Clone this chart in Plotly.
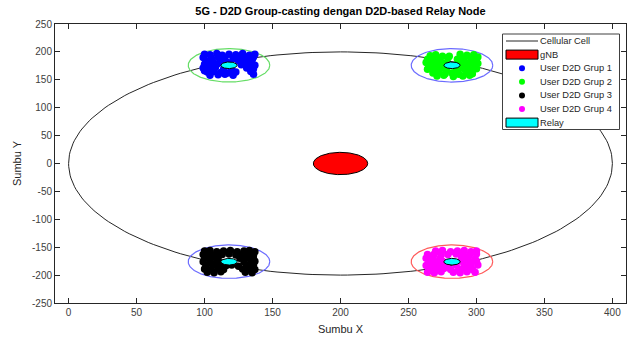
import numpy as np
import plotly.graph_objects as go

# ---- network layout ----
cell_center = (200, 0)
cell_radius = 200
gnb_radius = 20
relay_radius = 6
group_radius = 30

relay_x = [118, 282, 118, 282]
relay_y = [176, 176, -176, -176]

# ---- user positions per D2D group ----
grup1_x = [100, 104, 109, 113, 118, 123, 128, 133, 137, 99, 105, 110, 115, 121, 126, 131, 136,
           101, 106, 112, 125, 130, 135, 100, 104, 110, 127, 133, 137, 99, 103, 108, 114, 120,
           131, 136, 102, 107, 112, 117, 123, 134, 104, 110, 115, 121, 136, 100, 117]
grup1_y = [196, 195, 197, 194, 196, 195, 197, 194, 196, 190, 189, 191, 190, 188, 190, 189, 191,
           184, 183, 185, 184, 183, 185, 178, 177, 179, 177, 178, 176, 171, 170, 172, 169, 168,
           171, 170, 164, 165, 163, 162, 164, 165, 158, 159, 160, 158, 160, 166, 181]

grup2_x = [266, 270, 275, 288, 293, 298, 301, 264, 268, 273, 279, 286, 291, 296, 300, 263, 267,
           272, 277, 287, 292, 297, 301, 265, 270, 275, 289, 294, 299, 264, 268, 273, 278, 286,
           291, 296, 300, 268, 272, 277, 282, 287, 293, 297, 271, 276, 283, 290, 295, 280, 285]
grup2_y = [193, 195, 192, 196, 194, 195, 191, 187, 188, 186, 189, 187, 188, 186, 187, 181, 180,
           182, 179, 181, 180, 182, 179, 175, 174, 176, 174, 175, 173, 169, 168, 170, 167, 168,
           169, 167, 170, 162, 163, 161, 162, 160, 163, 161, 157, 158, 156, 157, 158, 192, 172]

grup3_x = [100, 104, 109, 114, 119, 124, 129, 133, 137, 99, 103, 108, 113, 118, 123, 128, 132,
           136, 100, 105, 110, 126, 131, 136, 99, 104, 109, 114, 129, 134, 137, 101, 106, 111,
           116, 120, 125, 131, 136, 100, 105, 110, 114, 128, 133, 137, 102, 107, 112, 130, 135]
grup3_y = [-157, -156, -158, -157, -156, -158, -157, -156, -158, -163, -162, -164, -163, -162,
           -164, -163, -162, -164, -170, -169, -171, -170, -169, -171, -176, -177, -175, -178,
           -176, -177, -175, -183, -182, -184, -183, -182, -184, -183, -182, -189, -190, -188,
           -190, -189, -188, -190, -195, -196, -194, -195, -196]

grup4_x = [270, 275, 281, 286, 291, 296, 300, 264, 269, 274, 279, 285, 290, 295, 300, 263, 268,
           273, 289, 294, 299, 265, 270, 275, 290, 295, 300, 263, 268, 273, 278, 285, 291, 296,
           301, 265, 270, 276, 281, 287, 292, 297, 264, 269, 274, 283, 288, 293, 299]
grup4_y = [-157, -156, -158, -157, -156, -158, -157, -163, -162, -164, -163, -162, -164, -163,
           -162, -170, -169, -171, -170, -169, -171, -176, -177, -175, -176, -177, -175, -183,
           -182, -184, -183, -182, -184, -183, -182, -189, -190, -188, -190, -189, -188, -190,
           -195, -196, -194, -195, -196, -194, -195]

group_names = ["User D2D Grup 1", "User D2D Grup 2", "User D2D Grup 3", "User D2D Grup 4"]
group_colors = ["#0000ff", "#00ff00", "#000000", "#ff00ff"]
group_ring_colors = ["#66dd66", "#6b6bff", "#6b6bff", "#ff5a5a"]
groups = [(grup1_x, grup1_y), (grup2_x, grup2_y), (grup3_x, grup3_y), (grup4_x, grup4_y)]

x_ticks = list(range(0, 401, 50))
y_ticks = list(range(-250, 251, 50))
x_tick_labels = [str(v) for v in x_ticks]
y_tick_labels = [str(v) for v in y_ticks]

FONT = "Liberation Sans, Arial, Helvetica, sans-serif"
AX_COLOR = "#262626"

theta = np.linspace(0, 2 * np.pi, 241)


def circle(cx, cy, r):
    return cx + r * np.cos(theta), cy + r * np.sin(theta)


fig = go.Figure()

# cell boundary
cx, cy = circle(cell_center[0], cell_center[1], cell_radius)
fig.add_trace(go.Scatter(x=cx, y=cy, mode="lines", line=dict(color="#262626", width=1),
                         name="Cellular Cell", hoverinfo="skip"))

# base station
gx, gy = circle(cell_center[0], cell_center[1], gnb_radius)
fig.add_trace(go.Scatter(x=gx, y=gy, mode="lines", fill="toself", fillcolor="#ff0000",
                         line=dict(color="#000000", width=1), name="gNB", hoverinfo="skip"))

# group coverage rings
for rx, ry, rc in zip(relay_x, relay_y, group_ring_colors):
    ox, oy = circle(rx, ry, group_radius)
    fig.add_trace(go.Scatter(x=ox, y=oy, mode="lines", line=dict(color=rc, width=1.2),
                             showlegend=False, hoverinfo="skip"))

# users
for (ux, uy), nm, col in zip(groups, group_names, group_colors):
    fig.add_trace(go.Scatter(x=ux, y=uy, mode="markers", name=nm,
                             marker=dict(color=col, size=7.5, line=dict(width=0))))

# relay nodes
for rx, ry in zip(relay_x, relay_y):
    px_, py_ = circle(rx, ry, relay_radius)
    fig.add_trace(go.Scatter(x=px_, y=py_, mode="lines", fill="toself", fillcolor="#00ffff",
                             line=dict(color="#000000", width=1), name="Relay",
                             showlegend=False, hoverinfo="skip"))

# ---- legend box (top-right, inside the axes) ----
W, H = 628, 340
ML, MR, MT, MB = 55, 2, 24, 37
PW, PH = W - ML - MR, H - MT - MB


def px2paper(xp, yp):
    return (xp - ML) / PW, (H - MB - yp) / PH


shapes = []
annotations = []

bx0, by0 = px2paper(502.5, 34)
bx1, by1 = px2paper(619.5, 129.5)
shapes.append(dict(type="rect", xref="paper", yref="paper", x0=bx0, y0=by1, x1=bx1, y1=by0,
                   fillcolor="white", line=dict(color="#404040", width=1), layer="above"))

legend_rows = [
    ("line", "Cellular Cell", "#262626"),
    ("rect", "gNB", "#ff0000"),
    ("dot", group_names[0], group_colors[0]),
    ("dot", group_names[1], group_colors[1]),
    ("dot", group_names[2], group_colors[2]),
    ("dot", group_names[3], group_colors[3]),
    ("rect", "Relay", "#00ffff"),
]
row0, row_step = 41, 13.6
for k, (kind, label, col) in enumerate(legend_rows):
    yc = row0 + k * row_step
    if kind == "line":
        x0p, yp = px2paper(506, yc)
        x1p, _ = px2paper(538, yc)
        shapes.append(dict(type="line", xref="paper", yref="paper", x0=x0p, x1=x1p, y0=yp, y1=yp,
                           line=dict(color=col, width=1), layer="above"))
    elif kind == "rect":
        x0p, y0p = px2paper(506, yc - 4.5)
        x1p, y1p = px2paper(538, yc + 4.5)
        shapes.append(dict(type="rect", xref="paper", yref="paper", x0=x0p, x1=x1p, y0=y1p, y1=y0p,
                           fillcolor=col, line=dict(color="#000000", width=1), layer="above"))
    else:
        xcp, ycp = px2paper(522, yc)
        shapes.append(dict(type="circle", xref="paper", yref="paper", xsizemode="pixel",
                           ysizemode="pixel", xanchor=xcp, yanchor=ycp, x0=-3, x1=3, y0=-3, y1=3,
                           fillcolor=col, line=dict(width=0), layer="above"))
    tx, ty = px2paper(539.5, yc)
    annotations.append(dict(xref="paper", yref="paper", x=tx, y=ty, text=label, showarrow=False,
                            xanchor="left", yanchor="middle", xshift=-2,
                            font=dict(family=FONT, size=9.3, color=AX_COLOR)))

axis_common = dict(showline=True, linecolor=AX_COLOR, linewidth=1, mirror="ticks",
                   ticks="inside", ticklen=5, tickcolor=AX_COLOR, showgrid=False,
                   zeroline=False, tickfont=dict(family=FONT, size=10, color="#404040"))

fig.update_layout(
    width=W, height=H,
    margin=dict(l=ML, r=MR, t=MT, b=MB),
    paper_bgcolor="white", plot_bgcolor="white",
    showlegend=False,
    title=dict(text="<b>5G - D2D Group-casting dengan D2D-based Relay Node</b>",
               x=(ML + PW / 2) / W, xanchor="center", y=1 - 11 / H, yanchor="middle",
               font=dict(family=FONT, size=11, color="#000000")),
    xaxis=dict(range=[-10, 410], tickvals=x_ticks, ticktext=x_tick_labels, **axis_common,
               title=dict(text="Sumbu X", standoff=8,
                          font=dict(family=FONT, size=11, color=AX_COLOR))),
    yaxis=dict(range=[-250, 250], tickvals=y_ticks, ticktext=y_tick_labels, **axis_common,
               title=dict(text="Sumbu Y", standoff=8,
                          font=dict(family=FONT, size=11, color=AX_COLOR))),
    shapes=shapes,
    annotations=annotations,
)

fig.write_html("out.html")
